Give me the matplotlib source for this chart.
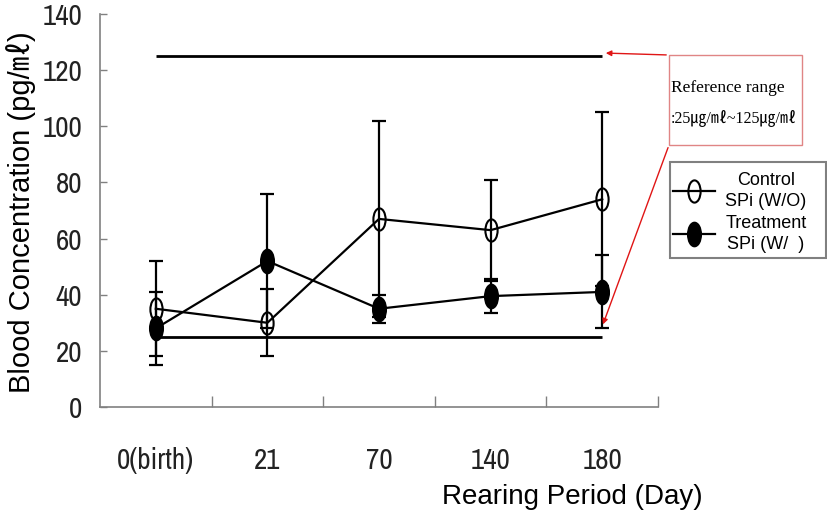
import matplotlib
matplotlib.use("Agg")
from matplotlib import pyplot as plt
from matplotlib import font_manager
from matplotlib.lines import Line2D
from matplotlib.patches import Rectangle, FancyArrowPatch
from matplotlib.path import Path
from matplotlib.transforms import Affine2D
import numpy as np

categories = ["0(birth)", "21", "70", "140", "180"]
control = [35, 30, 67, 63, 74]
control_err = [17, 12, 35, 18, 31]
treatment = [28, 52, 35, 39.5, 41]
treatment_err = [13, 24, 5, 6, 13]
ref_low = 25
ref_high = 125

W, H = 827, 514
sans = ["Liberation Sans", "Noto Sans CJK KR", "DejaVu Sans"]
serif = ["Liberation Serif", "Noto Sans CJK KR", "DejaVu Serif"]
gray = "#808080"

# narrow face for the tick numbers, whichever one is installed
installed = set(f.name for f in font_manager.fontManager.ttflist)
narrow = "Liberation Sans"
for name in ["Liberation Sans Narrow", "Arial Narrow", "Archivo Narrow", "PT Sans Narrow",
             "Roboto Condensed", "Asap Condensed", "Barlow Semi Condensed"]:
    if name in installed:
        narrow = name
        break
narrow = [narrow, "DejaVu Sans"]


def fig_xy(px, py):
    # pixel coords (from top-left) -> figure fraction
    return px / W, 1 - py / H


# tall ellipse marker
ellipse = Path(Affine2D().scale(0.55, 1.0).transform(Path.unit_circle().vertices),
               Path.unit_circle().codes)

fig = plt.figure(figsize=(W / 100, H / 100), dpi=100)
ax = fig.add_axes([100 / W, 1 - 407 / H, 558 / W, 393 / H])

x = np.arange(len(categories))

ax.hlines([ref_low, ref_high], 0, len(categories) - 1, color="black", lw=2.0, zorder=2)

ax.errorbar(x, control, yerr=control_err, fmt="none", ecolor="black",
            elinewidth=1.6, capsize=5, capthick=1.6, zorder=3)
ax.errorbar(x, treatment, yerr=treatment_err, fmt="none", ecolor="black",
            elinewidth=1.6, capsize=5, capthick=1.6, zorder=3)

ax.plot(x, control, color="black", lw=1.6, marker=ellipse, ms=16,
        mfc="none", mec="black", mew=1.5, zorder=4)
ax.plot(x, treatment, color="black", lw=1.6, marker=ellipse, ms=17,
        mfc="black", mec="black", mew=1.5, zorder=4)

ax.set_xlim(-0.5, len(categories) - 0.5)
ax.set_ylim(0, 140)

for s in ["top", "right"]:
    ax.spines[s].set_visible(False)
for s in ["left", "bottom"]:
    ax.spines[s].set_color(gray)
    ax.spines[s].set_linewidth(1.2)

ax.set_yticks(np.arange(0, 141, 20))
ax.tick_params(axis="y", direction="in", length=5, width=1, color=gray,
               pad=13, labelsize=21, labelcolor="#222222")
for t in ax.get_yticklabels():
    t.set_family(narrow)

ax.set_xticks(x)
ax.set_xticklabels(categories)
ax.set_xticks(x + 0.5, minor=True)
ax.tick_params(axis="x", which="major", length=0, pad=29, labelsize=21,
               labelcolor="#222222")
ax.tick_params(axis="x", which="minor", direction="in", length=8, width=1, color=gray)
for t in ax.get_xticklabels():
    t.set_family(narrow)

ax.set_ylabel("Blood Concentration (pg/㎖)", fontsize=21, family=sans)
ax.yaxis.set_label_coords(-64 / 558, 0.495)
fig.text(*fig_xy(572, 497), "Rearing Period (Day)", fontsize=20, family=sans,
         ha="center", va="center")

# reference range box and arrows
bx0, by0 = fig_xy(669, 145)
bx1, by1 = fig_xy(802, 55)
fig.add_artist(Rectangle((bx0, by0), bx1 - bx0, by1 - by0, transform=fig.transFigure,
                         fill=False, edgecolor="#e08585", lw=1.0))
fig.text(*fig_xy(671, 88), "Reference range", fontsize=12.5, family=serif,
         ha="left", va="center")
fig.text(*fig_xy(671, 118), ":25㎍/㎖~125㎍/㎖", fontsize=11.5, family=serif,
         ha="left", va="center")
for tail, head in [((669, 55), (603, 53)), ((669, 145), (602, 327))]:
    fig.add_artist(FancyArrowPatch(fig_xy(*tail), fig_xy(*head), transform=fig.transFigure,
                                   arrowstyle="-|>", mutation_scale=8,
                                   color="#e01515", lw=1.0))

# legend: frame drawn by hand, entries from the legend machinery
lx0, ly0 = fig_xy(670, 258)
lx1, ly1 = fig_xy(826, 162)
fig.add_artist(Rectangle((lx0, ly0), lx1 - lx0, ly1 - ly0, transform=fig.transFigure,
                         facecolor="white", edgecolor=gray, lw=1.5))
handles = [
    Line2D([], [], color="black", lw=1.6, marker=ellipse, ms=16, mfc="none", mec="black", mew=1.5),
    Line2D([], [], color="black", lw=1.6, marker=ellipse, ms=17, mfc="black", mec="black", mew=1.5),
]
leg = fig.legend(handles, ["Control\nSPi (W/O)", "Treatment\nSPi (W/  )"],
                 loc="upper left", bbox_to_anchor=fig_xy(673, 172),
                 prop={"family": sans, "size": 13}, frameon=False,
                 handlelength=2.3, handletextpad=0.6, labelspacing=0.3,
                 borderpad=0, borderaxespad=0)
for t in leg.get_texts():
    t.set_multialignment("center")
    t.set_linespacing(1.3)

fig.savefig("out.png", dpi=100)
